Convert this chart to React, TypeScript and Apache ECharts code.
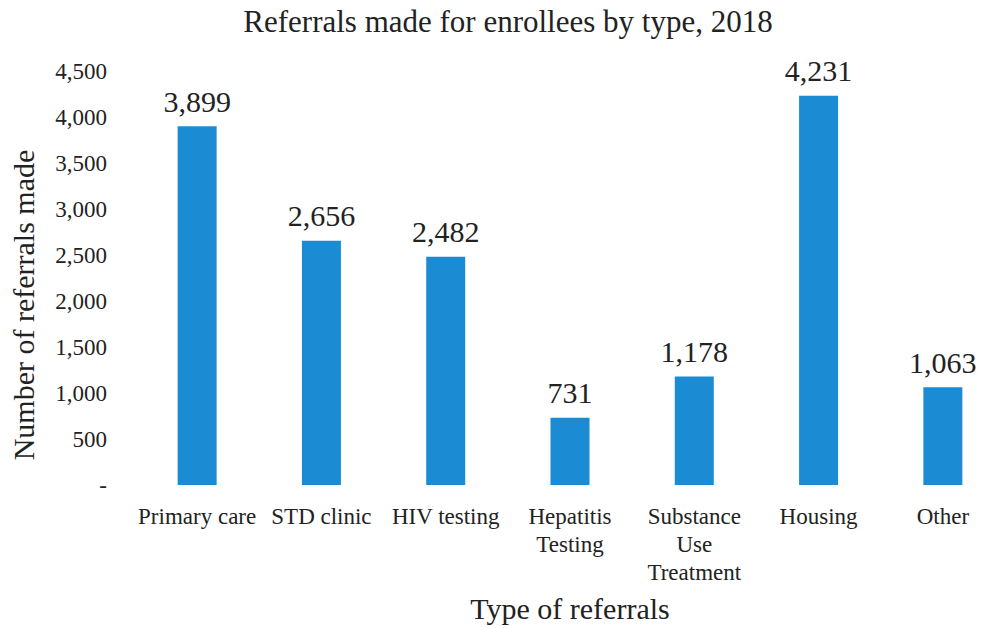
import React, { useEffect, useRef } from "react";
import * as echarts from "echarts";

const categories = ["Primary care", "STD clinic", "HIV testing", "Hepatitis\nTesting", "Substance\nUse\nTreatment", "Housing", "Other"];
const values = [3899, 2656, 2482, 731, 1178, 4231, 1063];
const yMax = 4500;
const yInterval = 500;

const FONT = "Liberation Serif";

export default function App() {
  const ref = useRef<HTMLDivElement>(null);
  useEffect(() => {
    document.body.style.margin = "0";
    document.body.style.overflow = "hidden";
    if (!ref.current) return;
    const chart = echarts.init(ref.current, null, { renderer: "svg" });
    chart.setOption({
      animation: false,
      backgroundColor: "#ffffff",
      title: {
        text: "Referrals made for enrollees by type, 2018",
        left: 503,
        textAlign: "center",
        top: 1,
        textStyle: { fontFamily: FONT, fontSize: 31, fontWeight: "normal", color: "#222" },
      },
      grid: { left: 135, right: 1, top: 71, bottom: 143 },
      xAxis: {
        type: "category",
        data: categories,
        axisLine: { show: false },
        axisTick: { show: false },
        axisLabel: {
          fontFamily: FONT,
          fontSize: 23,
          color: "#222",
          lineHeight: 28,
          margin: 17,
          interval: 0,
        },
        name: "Type of referrals",
        nameLocation: "middle",
        nameGap: 108,
        nameTextStyle: { fontFamily: FONT, fontSize: 30, color: "#222" },
      },
      yAxis: {
        type: "value",
        min: 0,
        max: yMax,
        interval: yInterval,
        axisLine: { show: false },
        axisTick: { show: false },
        splitLine: { show: false },
        axisLabel: {
          fontFamily: FONT,
          fontSize: 23,
          color: "#222",
          margin: 28,
          formatter: (v: number) => (v === 0 ? "-" : v.toLocaleString("en-US")),
        },
        name: "Number of referrals made",
        nameLocation: "middle",
        nameGap: 97,
        nameTextStyle: { fontFamily: FONT, fontSize: 30, color: "#222", padding: [0, 54, 0, 0] },
      },
      series: [
        {
          type: "bar",
          data: values,
          barWidth: 39,
          itemStyle: { color: "#1b8bd3" },
          label: {
            show: true,
            position: "top",
            distance: 10,
            fontFamily: FONT,
            fontSize: 30,
            color: "#222",
            formatter: (p: any) => Number(p.value).toLocaleString("en-US"),
          },
        },
      ],
    });
    return () => chart.dispose();
  }, []);
  return (
    <div style={{ position: "fixed", left: 0, top: 0, width: 984, height: 628, overflow: "hidden", background: "#fff" }}>
      <div ref={ref} style={{ width: 1006, height: 628 }} />
    </div>
  );
}
